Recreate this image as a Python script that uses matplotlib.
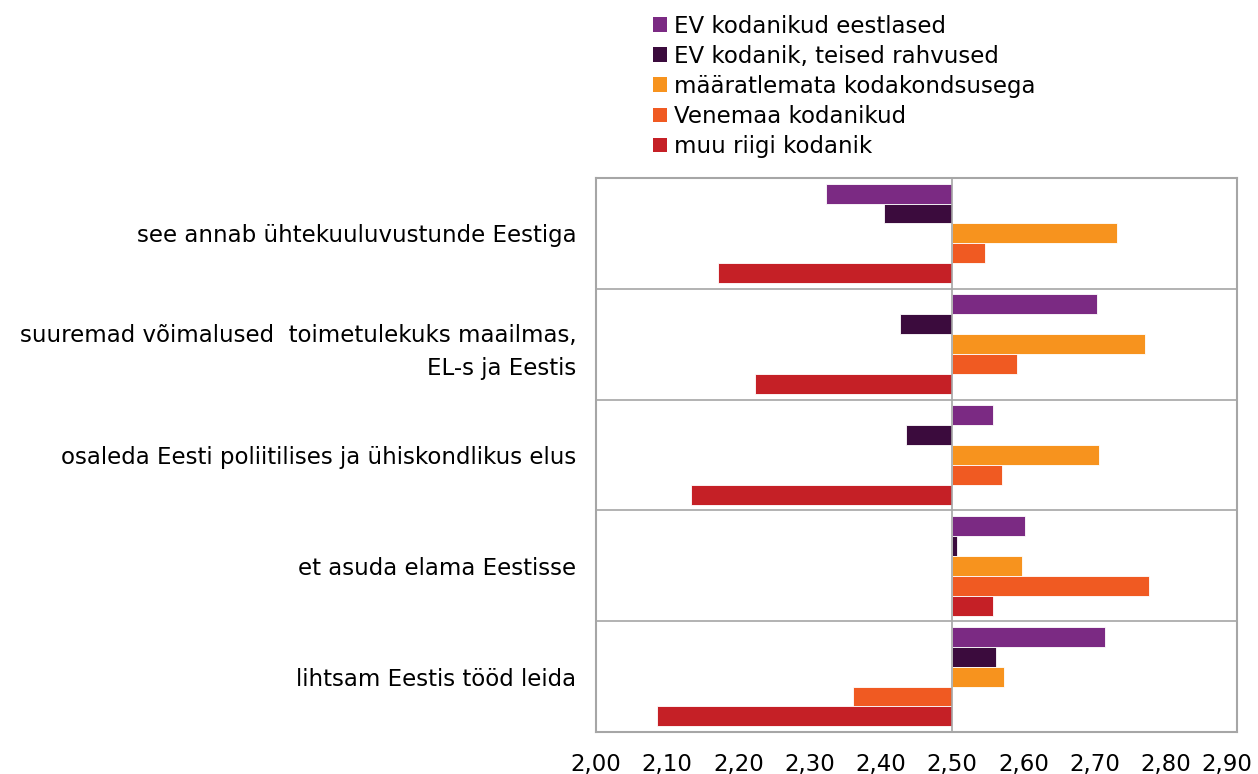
import matplotlib.pyplot as plt
from matplotlib.patches import Patch
from matplotlib.transforms import ScaledTranslation
import numpy as np

plt.rcParams['font.family'] = ['DejaVu Sans']

categories = [
    'see annab ühtekuuluvustunde Eestiga',
    'suuremad võimalused  toimetulekuks maailmas,\nEL-s ja Eestis',
    'osaleda Eesti poliitilises ja ühiskondlikus elus',
    'et asuda elama Eestisse',
    'lihtsam Eestis tööd leida',
]
series_names = [
    'EV kodanikud eestlased',
    'EV kodanik, teised rahvused',
    'määratlemata kodakondsusega',
    'Venemaa kodanikud',
    'muu riigi kodanik',
]
ev_eestlased = [2.323, 2.703, 2.557, 2.602, 2.715]
ev_teised = [2.404, 2.427, 2.435, 2.507, 2.562]
maaratlemata = [2.732, 2.771, 2.706, 2.598, 2.573]
venemaa = [2.546, 2.591, 2.570, 2.776, 2.361]
muu_riigi = [2.171, 2.223, 2.133, 2.557, 2.086]
x_ticks = [2.0, 2.1, 2.2, 2.3, 2.4, 2.5, 2.6, 2.7, 2.8, 2.9]
colors = ['#7B2A83', '#3B0B3D', '#F7931E', '#F05A22', '#C52026']

series = [ev_eestlased, ev_teised, maaratlemata, venemaa, muu_riigi]
base = 2.5
grey = '#A6A6A6'
fs = 16.5

fig = plt.figure(figsize=(12.58, 7.74), dpi=100)
ax = fig.add_axes([0.4738, 0.0543, 0.5095, 0.7157])

n = len(categories)
bar_h = 0.18
y_centers = np.arange(n)
for i, (vals, col) in enumerate(zip(series, colors)):
    y = y_centers - 0.36 + i * bar_h
    vals = np.array(vals)
    ax.barh(y, vals - base, left=base, height=bar_h, color=col,
            edgecolor='white', linewidth=0.6)

ax.set_ylim(n - 0.5, -0.5)
ax.set_xlim(2.0, 2.9)
ax.set_xticks(x_ticks)
ax.set_xticklabels([f'{t:.2f}'.replace('.', ',') for t in x_ticks], fontsize=fs)
ax.set_yticks(y_centers)
ax.set_yticklabels(categories, fontsize=fs, ha='right', multialignment='right',
                   linespacing=1.55)
ax.tick_params(axis='x', length=0, pad=15)
ax.tick_params(axis='y', length=0, pad=14)

# last tick label is pulled in a bit so it stays inside the picture
last = ax.get_xticklabels()[-1]
last.set_transform(last.get_transform() + ScaledTranslation(-7 / 72, 0, fig.dpi_scale_trans))

for b in np.arange(0.5, n - 0.5, 1.0):
    ax.axhline(b, color=grey, linewidth=1.2, zorder=0)
ax.axvline(base, color=grey, linewidth=1.2, zorder=3)
for s in ax.spines.values():
    s.set_color(grey)
    s.set_linewidth(1.5)

handles = [Patch(facecolor=c, edgecolor='none') for c in colors]
fig.legend(handles, series_names, loc='upper left', bbox_to_anchor=(0.512, 0.993),
           frameon=False, fontsize=fs, handlelength=0.6, handleheight=0.6,
           handletextpad=0.3, labelspacing=0.31, borderaxespad=0)

fig.savefig('out.png', dpi=100)
